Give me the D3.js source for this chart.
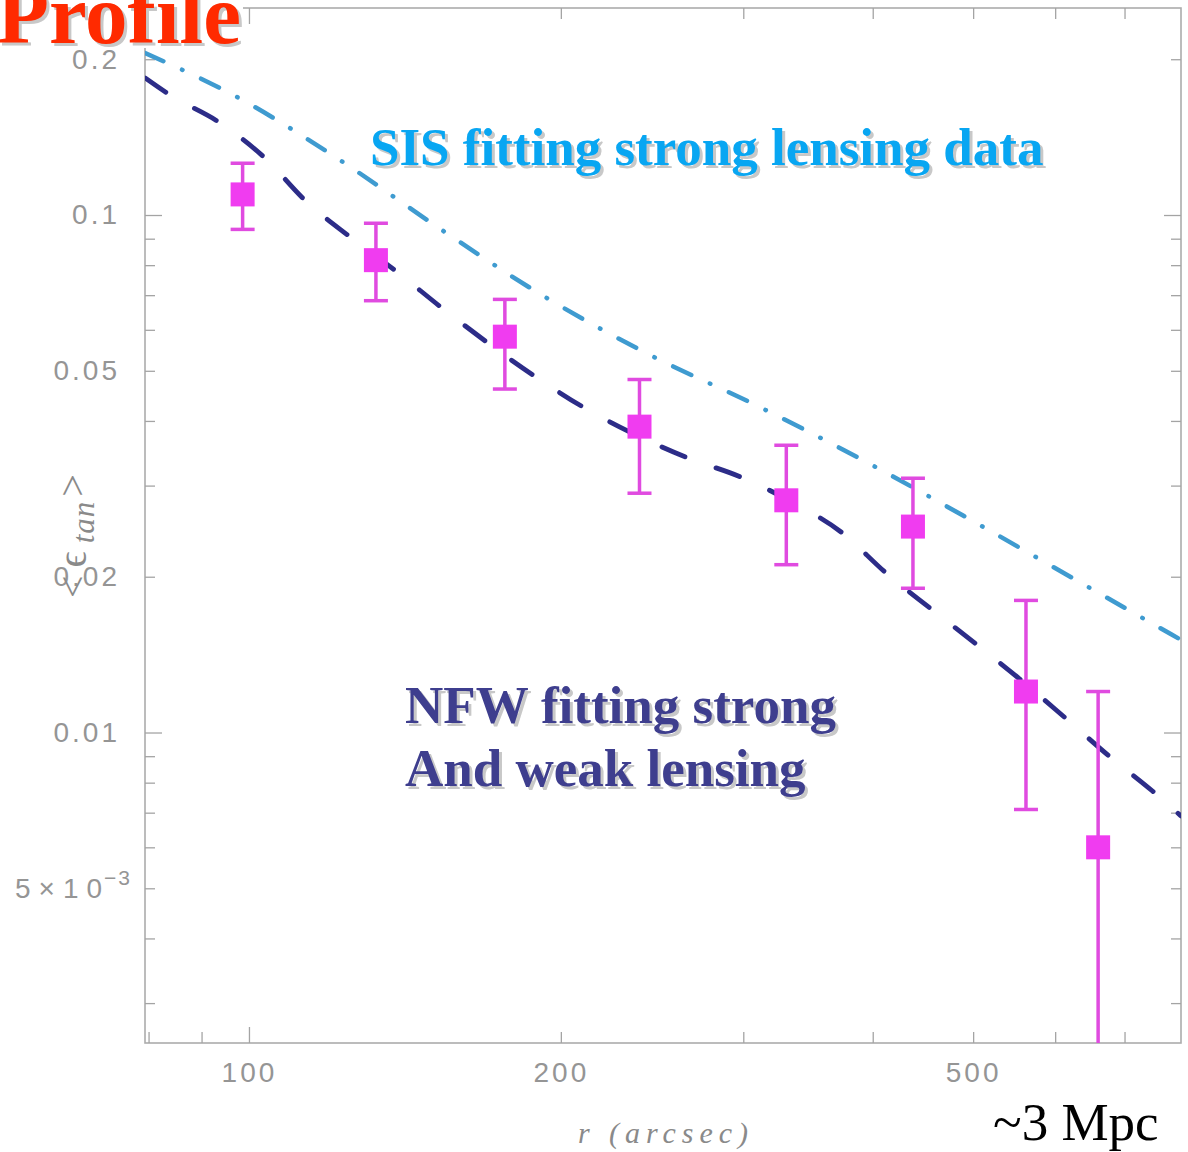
<!DOCTYPE html>
<html>
<head>
<meta charset="utf-8">
<script src="https://cdn.jsdelivr.net/npm/d3@7"></script>
<style>
    body { margin: 0; background: #fff; }
</style>
</head>
<body>
<div id="chart"></div>
<script>

// measured shear points (r in arcsec)
const radius = [98.6, 132.6, 176.6, 238.2, 330.1, 437.4, 562.3, 660.1];
const shear = [0.1096, 0.0818, 0.0582, 0.0390, 0.0281, 0.0250, 0.0120, 0.0060];
const shearHi = [0.1259, 0.0964, 0.0687, 0.0481, 0.0359, 0.0310, 0.0180, 0.0120];
const shearLo = [0.0938, 0.0683, 0.0461, 0.0290, 0.0211, 0.0190, 0.0071, 0.0020];

// SIS model curve
const sisR = [79.4, 97.4, 122.4, 153.6, 191.8, 242.7, 309.3, 394.6, 500, 631.5, 793.6];
const sisY = [0.2056, 0.169, 0.1277, 0.0935, 0.0700, 0.0539, 0.0428, 0.0333, 0.0256, 0.0196, 0.0151];

// NFW model curve
const nfwR = [79.4, 83.9, 93.8, 103.6, 113.2, 125.2, 139.0, 153.6, 187.9, 209.9, 234.3, 264.5,
    297.9, 335.2, 373.9, 411.3, 454.2, 501.6, 554.2, 612.6, 676.6, 745.3, 793.6];
const nfwY = [0.1840, 0.1706, 0.1506, 0.1289, 0.1069, 0.0907, 0.0776, 0.0661, 0.0491, 0.0426,
    0.0379, 0.0340, 0.0312, 0.0278, 0.0243, 0.0204, 0.0174, 0.0149, 0.0127, 0.0107, 0.0090,
    0.0077, 0.0069];

// ticks
const xLabelTicks = [100, 200, 500];
const xMinorTicks = [80, 90, 200, 300, 400, 500, 600, 700];
const xDecadeTicks = [100];
const yLabelTicks = [0.2, 0.1, 0.05, 0.02, 0.01, 0.005];
const yMinorTicks = [0.003, 0.004, 0.005, 0.006, 0.007, 0.008, 0.009,
    0.02, 0.03, 0.04, 0.05, 0.06, 0.07, 0.08, 0.09, 0.2];
const yDecadeTicks = [0.01, 0.1];

const width = 1188;
const height = 1152;
const margin = { top: 8, left: 145, right: 7, bottom: 109 };

const svg = d3.select("#chart")
    .append("svg")
    .attr("width", width)
    .attr("height", height)
    .style("background-color", "#fff");

const xScale = d3.scaleLog()
    .domain([79.37, 793.6])
    .range([margin.left, width - margin.right]);

const yScale = d3.scaleLog()
    .domain([0.002512, 0.2512])
    .range([height - margin.bottom, margin.top]);

const x0 = margin.left, x1 = width - margin.right;
const y0 = margin.top, y1 = height - margin.bottom;

svg.append("defs").append("clipPath")
    .attr("id", "plotArea")
    .append("rect")
    .attr("x", x0).attr("y", y0)
    .attr("width", x1 - x0).attr("height", y1 - y0);

/*
FRAME + TICKS (inward on all four sides)
*/
svg.append("rect")
    .attr("x", x0).attr("y", y0)
    .attr("width", x1 - x0).attr("height", y1 - y0)
    .attr("fill", "none")
    .attr("stroke", "#acacac")
    .attr("stroke-width", 1.6);

function drawTicks(axis, vals, size, transform) {
    const g = svg.append("g")
        .attr("transform", transform)
        .call(axis.tickValues(vals).tickSize(-size).tickFormat(""));
    g.select(".domain").remove();
    g.selectAll("line").attr("stroke", "#a4a4a4").attr("stroke-width", 1.3);
}

drawTicks(d3.axisBottom(xScale), xMinorTicks, 11, `translate(0,${y1})`);
drawTicks(d3.axisBottom(xScale), xDecadeTicks, 16, `translate(0,${y1})`);
drawTicks(d3.axisTop(xScale), xMinorTicks, 11, `translate(0,${y0})`);
drawTicks(d3.axisTop(xScale), xDecadeTicks, 16, `translate(0,${y0})`);
drawTicks(d3.axisLeft(yScale), yMinorTicks, 10, `translate(${x0},0)`);
drawTicks(d3.axisLeft(yScale), yDecadeTicks, 17, `translate(${x0},0)`);
drawTicks(d3.axisRight(yScale), yMinorTicks, 10, `translate(${x1},0)`);
drawTicks(d3.axisRight(yScale), yDecadeTicks, 17, `translate(${x1},0)`);

/*
TICK LABELS
*/
const xLabels = svg.append("g")
    .attr("transform", `translate(0,${y1})`)
    .call(d3.axisBottom(xScale).tickValues(xLabelTicks).tickSize(0).tickPadding(19)
        .tickFormat(d3.format("d")));
xLabels.select(".domain").remove();

const yLabels = svg.append("g")
    .attr("transform", `translate(${x0},0)`)
    .call(d3.axisLeft(yScale).tickValues(yLabelTicks).tickSize(0).tickPadding(25)
        .tickFormat(function (d) { return String(d); }));
yLabels.select(".domain").remove();

svg.selectAll(".tick text")
    .attr("font-family", "Liberation Sans, Arial, sans-serif")
    .attr("font-size", 28)
    .attr("letter-spacing", 3)
    .attr("fill", "#959595");

// 5x10^-3 label
yLabels.selectAll(".tick text")
    .filter(function (d) { return d === 0.005; })
    .each(function () {
        const t = d3.select(this);
        t.text(null)
            .attr("x", -130)
            .attr("text-anchor", "start")
            .attr("letter-spacing", 0);
        t.append("tspan").attr("letter-spacing", 8).text("5×10");
        t.append("tspan").attr("font-size", 21).attr("dy", -13).attr("dx", -6).attr("letter-spacing", 2).text("−3");
    });

/*
AXIS TITLES
*/
svg.append("text")
    .attr("x", (x0 + x1) / 2)
    .attr("y", 1143)
    .attr("text-anchor", "middle")
    .attr("font-family", "Liberation Serif, serif")
    .attr("font-style", "italic")
    .attr("font-size", 30)
    .attr("textLength", 170)
    .attr("fill", "#8a8a8a")
    .text("r (arcsec)");

const yTitle = svg.append("text")
    .attr("transform", "translate(86,598) rotate(-90)")
    .attr("font-family", "Liberation Serif, DejaVu Serif, serif")
    .attr("font-size", 40)
    .attr("fill", "#8a8a8a");
yTitle.append("tspan").attr("letter-spacing", 8).text("<ϵ");
yTitle.append("tspan").attr("font-size", 31).attr("font-style", "italic").attr("dy", 8)
    .attr("letter-spacing", 1).text("tan");
yTitle.append("tspan").attr("dy", -8).attr("dx", 4).text(">");

/*
MODEL CURVES
*/
const line = d3.line()
    .x(function (d) { return xScale(d[0]); })
    .y(function (d) { return yScale(d[1]); })
    .curve(d3.curveMonotoneX);

const plot = svg.append("g").attr("clip-path", "url(#plotArea)");

plot.append("path")
    .datum(d3.zip(sisR, sisY))
    .attr("d", line)
    .attr("fill", "none")
    .attr("stroke", "#3f9bd0")
    .attr("stroke-width", 4.5)
    .attr("stroke-linecap", "round")
    .attr("stroke-dasharray", "20,20.5,0.5,20.5");

plot.append("path")
    .datum(d3.zip(nfwR, nfwY))
    .attr("d", line)
    .attr("fill", "none")
    .attr("stroke", "#2c2c88")
    .attr("stroke-width", 4.8)
    .attr("stroke-linecap", "round")
    .attr("stroke-dasharray", "25,33");

/*
DATA POINTS WITH ERROR BARS
*/
const points = radius.map(function (r, i) {
    return { r: r, v: shear[i], hi: shearHi[i], lo: shearLo[i] };
});

const errColor = "#e04be0";
const bars = plot.selectAll(".err")
    .data(points)
    .enter()
    .append("g");

bars.append("line")
    .attr("x1", function (d) { return xScale(d.r); })
    .attr("x2", function (d) { return xScale(d.r); })
    .attr("y1", function (d) { return yScale(d.hi); })
    .attr("y2", function (d) { return yScale(d.lo); })
    .attr("stroke", errColor)
    .attr("stroke-width", 3.5);

bars.append("line")
    .attr("x1", function (d) { return xScale(d.r) - 12; })
    .attr("x2", function (d) { return xScale(d.r) + 12; })
    .attr("y1", function (d) { return yScale(d.hi); })
    .attr("y2", function (d) { return yScale(d.hi); })
    .attr("stroke", errColor)
    .attr("stroke-width", 3.5);

bars.filter(function (d) { return d.lo > 0.0026; })
    .append("line")
    .attr("x1", function (d) { return xScale(d.r) - 12; })
    .attr("x2", function (d) { return xScale(d.r) + 12; })
    .attr("y1", function (d) { return yScale(d.lo); })
    .attr("y2", function (d) { return yScale(d.lo); })
    .attr("stroke", errColor)
    .attr("stroke-width", 3.5);

bars.append("rect")
    .attr("x", function (d) { return xScale(d.r) - 12; })
    .attr("y", function (d) { return yScale(d.v) - 12; })
    .attr("width", 24)
    .attr("height", 24)
    .attr("fill", "#f03cf0");

/*
ANNOTATIONS
*/
function shadowText(x, y, txt, size, color, weight) {
    svg.append("text")
        .attr("x", x + 3).attr("y", y + 3)
        .attr("font-family", "Liberation Serif, Times New Roman, serif")
        .attr("font-weight", weight)
        .attr("font-size", size)
        .attr("fill", "#c8c8c8")
        .text(txt);
    svg.append("text")
        .attr("x", x).attr("y", y)
        .attr("font-family", "Liberation Serif, Times New Roman, serif")
        .attr("font-weight", weight)
        .attr("font-size", size)
        .attr("fill", color)
        .text(txt);
}

shadowText(370, 165, "SIS fitting strong lensing data", 53, "#08a6f2", "bold");
shadowText(405, 723, "NFW fitting strong", 53, "#3e3e8e", "bold");
shadowText(405, 786, "And weak lensing", 53, "#3e3e8e", "bold");

svg.append("text")
    .attr("x", 993).attr("y", 1140)
    .attr("font-family", "Liberation Serif, Times New Roman, serif")
    .attr("font-size", 53)
    .attr("fill", "#000")
    .text("~3 Mpc");

// title box covering the corner of the frame
svg.append("rect")
    .attr("x", 0).attr("y", 0)
    .attr("width", 243).attr("height", 48)
    .attr("fill", "#fff");
shadowText(-3, 43, "Profile", 85, "#ff2a00", "bold");

</script>
</body>
</html>
